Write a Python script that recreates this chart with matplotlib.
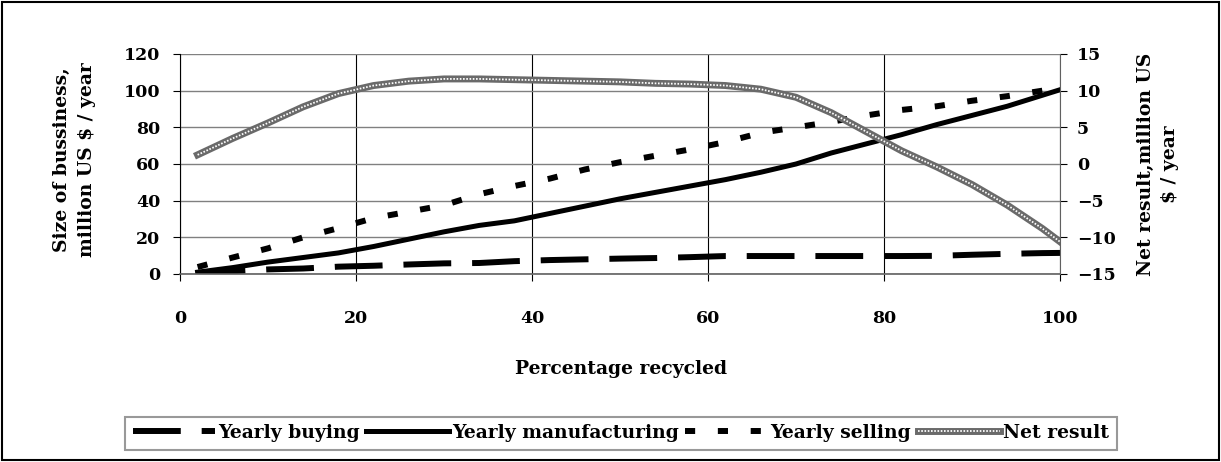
import matplotlib
matplotlib.use("Agg")
import matplotlib.pyplot as plt
from matplotlib.patches import Rectangle
from matplotlib.legend_handler import HandlerTuple

plt.rcParams['font.family'] = ['DejaVu Serif']
plt.rcParams['font.weight'] = 'bold'

pct = [2, 6, 10, 14, 18, 22, 26, 30, 34, 38, 42, 46, 50, 54, 58, 62, 66, 70,
       74, 78, 82, 86, 90, 94, 98, 100]
buying = [0.5, 1.5, 2.5, 3, 4, 4.5, 5.2, 5.8, 6, 7, 7.6, 8, 8.4, 8.7, 9.2, 9.8,
          9.8, 9.8, 9.8, 9.8, 9.8, 9.9, 10.5, 11, 11.4, 11.5]
manufacturing = [1, 3.5, 6.5, 9, 11.5, 15, 19, 23, 26.5, 29, 33, 37, 41, 44.5,
                 48, 51.5, 55.5, 60, 66, 71, 76, 81.5, 86.5, 91.5, 97.5, 100.5]
selling = [3.8, 9, 14, 20, 25, 30.5, 34, 37.5, 43.5, 48, 52, 57, 61, 64.5, 68,
           72, 77, 80, 83, 86.5, 89.5, 91.5, 94.5, 97, 100, 101]
net = [1.25, 3.5, 5.6, 7.8, 9.6, 10.7, 11.3, 11.6, 11.6, 11.5, 11.4, 11.3, 11.2,
       11.0, 10.9, 10.7, 10.2, 9.1, 7.0, 4.4, 1.8, -0.4, -2.8, -5.6, -8.8, -10.6]

xticks = [0, 20, 40, 60, 80, 100]
yticks_left = [0, 20, 40, 60, 80, 100, 120]
yticks_right = [-15, -10, -5, 0, 5, 10, 15]

W, H = 1221, 462
fig = plt.figure(figsize=(W / 100, H / 100), dpi=100)
ax = fig.add_axes([180 / W, 1 - 274 / H, 880 / W, 220 / H])
ax2 = ax.twinx()

ax.set_xlim(0, 100)
ax.set_ylim(0, 120)
ax2.set_ylim(-15, 15)
ax.set_xticks(xticks)
ax.set_yticks(yticks_left)
ax2.set_yticks(yticks_right)

ax.grid(axis='y', color='#808080', lw=1.0)
ax.grid(axis='x', color='black', lw=0.8)
ax.set_axisbelow(True)

ax.spines['top'].set_visible(False)
ax2.spines['top'].set_visible(False)
ax2.spines['left'].set_visible(False)
ax2.spines['bottom'].set_visible(False)
ax.spines['right'].set_visible(False)
ax.spines['left'].set_color('black')
ax.spines['bottom'].set_color('#606060')
ax.spines['bottom'].set_linewidth(1.2)
ax2.spines['right'].set_color('#606060')

tk = dict(labelsize=12.5, width=0.8, length=5, direction='out')
ax.tick_params(axis='x', pad=21, **tk)
ax.tick_params(axis='y', pad=9, **tk)
ax2.tick_params(axis='y', pad=7, **tk)
for lab in ax.get_xticklabels() + ax.get_yticklabels() + ax2.get_yticklabels():
    lab.set_fontweight('bold')

l_buy, = ax.plot(pct, buying, color='black', lw=4.3, dashes=(8, 3.5),
                 solid_capstyle='butt', dash_capstyle='butt',
                 label='Yearly buying')
l_man, = ax.plot(pct, manufacturing, color='black', lw=3.6,
                 label='Yearly manufacturing')
l_sell, = ax.plot(pct, selling, color='black', lw=4.3, dashes=(1.7, 3.8),
                  dash_capstyle='butt', label='Yearly selling')
n1, = ax2.plot(pct, net, color='#6a6a6a', lw=5.0)
n2, = ax2.plot(pct, net, color='white', lw=1.3, dashes=(0.9, 0.9))

ax.set_xlabel('Percentage recycled', fontsize=13.5, fontweight='bold')
ax.xaxis.set_label_coords(0.501, -0.39)
ax.set_ylabel('Size of bussiness,\nmillion US $ / year', fontsize=13.5,
              fontweight='bold', linespacing=1.45)
ax.yaxis.set_label_coords(-0.096, 0.52)
ax2.set_ylabel('Net result,million US\n$ / year', fontsize=13.5,
               fontweight='bold', linespacing=1.45)
ax2.yaxis.set_label_coords(1.087, 0.5)

leg = fig.legend([l_buy, l_man, l_sell, (n1, n2)],
                 ['Yearly buying', 'Yearly manufacturing', 'Yearly selling',
                  'Net result'],
                 handler_map={tuple: HandlerTuple(ndivide=1, pad=0)},
                 loc='center', bbox_to_anchor=(621 / W, 1 - 433 / H),
                 ncol=4, frameon=True, fancybox=False, handlelength=4.4,
                 handletextpad=0.15, columnspacing=0.35, borderpad=0.4,
                 prop={'size': 13.5, 'weight': 'bold'})
leg.get_frame().set_edgecolor('#808080')
leg.get_frame().set_linewidth(1.5)

fig.patches.append(Rectangle((2 / W, 2 / H), 1 - 4 / W, 1 - 4 / H,
                             transform=fig.transFigure, fill=False,
                             edgecolor='black', lw=1.5))

fig.savefig('out.png', dpi=100)
